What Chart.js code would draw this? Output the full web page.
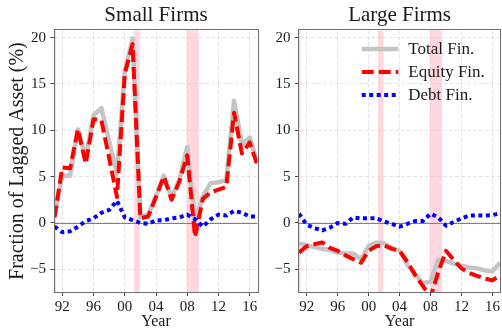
<!DOCTYPE html>
<html>
<head>
<meta charset="utf-8">
<script src="https://cdn.jsdelivr.net/npm/chart.js@4.4.1/dist/chart.umd.min.js"></script>
<style>
  html, body { margin: 0; padding: 0; background: #fff; overflow: hidden; }
  #wrap { position: relative; width: 502px; height: 330px; }
  canvas { position: absolute; top: 0; }
  #c1 { left: 0; }
  #c2 { left: 262px; }
</style>
</head>
<body>
<div id="wrap">
  <canvas id="c1" width="262" height="330"></canvas>
  <canvas id="c2" width="240" height="330"></canvas>
</div>
<script>
// Annual financing flows, % of lagged assets
const years = [1991, 1992, 1993, 1994, 1995, 1996, 1997, 1998, 1999, 2000,
               2001, 2002, 2003, 2004, 2005, 2006, 2007, 2008, 2009, 2010,
               2011, 2012, 2013, 2014, 2015, 2016, 2017];

const smallTotal  = [0.8, 5.1, 5.1, 10.1, 7.0, 11.6, 12.4, 8.8, 5.3, 16.4,
                     19.9, 0.6, 0.9, 2.9, 5.1, 2.7, 4.7, 8.2, 0.2, 2.9,
                     4.3, 4.4, 4.6, 13.2, 8.5, 9.2, 6.5];
const smallEquity = [0.6, 6.0, 5.9, 10.1, 6.4, 11.2, 11.1, 7.0, 2.8, 16.1,
                     19.3, 0.5, 0.7, 2.8, 5.0, 2.5, 4.5, 7.3, -1.5, 2.6,
                     3.3, 3.6, 3.9, 11.9, 7.5, 8.7, 6.2];
const smallDebt   = [-0.4, -1.0, -0.9, -0.4, 0.2, 0.5, 1.1, 1.4, 2.4, 0.6,
                     0.3, 0.0, -0.1, 0.3, 0.3, 0.5, 0.6, 0.9, 0.4, -0.4,
                     0.4, 0.9, 0.8, 1.3, 1.1, 0.7, 0.7];

const largeTotal  = [-2.2, -2.4, -2.6, -2.8, -2.9, -3.2, -3.3, -3.3, -3.9, -2.5,
                     -2.1, -2.2, -2.7, -3.0, -4.5, -5.5, -6.5, -6.3, -4.0, -4.1,
                     -4.4, -4.6, -4.8, -4.9, -5.1, -5.2, -4.3];
const largeEquity = [-3.2, -2.5, -2.3, -2.1, -2.7, -3.0, -3.5, -3.9, -4.3, -3.0,
                     -2.5, -2.4, -2.8, -3.0, -4.2, -5.6, -6.8, -8.0, -5.3, -3.0,
                     -4.0, -4.9, -5.4, -5.7, -6.0, -6.2, -5.6];
const largeDebt   = [1.0, -0.2, -0.55, -0.8, -0.5, 0.0, -0.1, 0.6, 0.5, 0.5,
                     0.5, 0.15, -0.1, -0.4, -0.1, 0.2, 0.2, 1.0, 0.6, -0.3,
                     0.1, 0.5, 0.8, 0.8, 0.8, 0.85, 1.05];

// NBER recession spans (fractional years)
const recessions = [[1990.5, 1991.2], [2001.2, 2001.9], [2007.9, 2009.5]];

const xTicks = [1992, 1996, 2000, 2004, 2008, 2012, 2016];
const yTicks = [-5, 0, 5, 10, 15, 20];

const FAMILY = "'Liberation Serif', 'Times New Roman', serif";
const INK = '#1a1a1a';

const panelDecor = {
  id: 'panelDecor',
  beforeDatasetsDraw(chart) {
    const { ctx, chartArea: a, scales: { x, y } } = chart;
    ctx.save();
    ctx.beginPath();
    ctx.rect(a.left, a.top, a.right - a.left, a.bottom - a.top);
    ctx.clip();
    ctx.fillStyle = 'rgba(255,192,203,0.62)';
    recessions.forEach(([s, e]) => {
      const x0 = x.getPixelForValue(s);
      const x1 = x.getPixelForValue(e);
      ctx.fillRect(x0, a.top, x1 - x0, a.bottom - a.top);
    });
    const y0 = Math.round(y.getPixelForValue(0)) + 0.5;
    ctx.strokeStyle = '#808080';
    ctx.lineWidth = 1;
    ctx.beginPath();
    ctx.moveTo(a.left, y0);
    ctx.lineTo(a.right, y0);
    ctx.stroke();
    ctx.restore();
  },
  afterDraw(chart) {
    const { ctx, chartArea: a } = chart;
    ctx.save();
    ctx.strokeStyle = '#6e6e6e';
    ctx.lineWidth = 1;
    ctx.strokeRect(Math.round(a.left) - 0.5, Math.round(a.top) - 0.5,
                   Math.round(a.right) - Math.round(a.left) + 1,
                   Math.round(a.bottom) - Math.round(a.top) + 1);
    ctx.restore();
  }
};

const insideLegend = {
  id: 'insideLegend',
  afterDatasetsDraw(chart, args, opts) {
    if (!opts.show) return;
    const { ctx, chartArea: a } = chart;
    ctx.save();
    chart.data.datasets.forEach((ds, i) => {
      const yy = a.top + opts.top + i * opts.rowGap;
      const x0 = a.left + opts.left;
      ctx.strokeStyle = ds.borderColor;
      ctx.lineWidth = ds.borderWidth;
      ctx.setLineDash(ds.borderDash || []);
      ctx.lineCap = 'butt';
      ctx.beginPath();
      ctx.moveTo(x0, yy);
      ctx.lineTo(x0 + opts.lineLen, yy);
      ctx.stroke();
      ctx.setLineDash([]);
      ctx.fillStyle = INK;
      ctx.font = opts.fontSize + 'px ' + FAMILY;
      ctx.textBaseline = 'middle';
      ctx.textAlign = 'left';
      ctx.fillText(ds.label, x0 + opts.lineLen + opts.gap, yy + 1);
    });
    ctx.restore();
  }
};

function series(label, values, color, width, dash, order) {
  return {
    label,
    data: years.map((yr, i) => ({ x: yr, y: values[i] })),
    borderColor: color,
    backgroundColor: color,
    borderWidth: width,
    borderDash: dash,
    borderCapStyle: 'butt',
    borderJoinStyle: 'round',
    pointRadius: 0,
    tension: 0,
    fill: false,
    clip: 0,
    order
  };
}

function makePanel(canvasId, title, total, equity, debt, yAxisWidth, showYTitle, showLegend) {
  const tickFont = { family: FAMILY, size: 15 };
  return new Chart(document.getElementById(canvasId), {
    type: 'line',
    data: {
      datasets: [
        series('Total Fin.', total, '#c4c4c4', 4.5, [], 3),
        series('Equity Fin.', equity, '#ff0000', 4, [12, 5], 2),
        series('Debt Fin.', debt, '#0000ff', 4, [4, 3.5], 1)
      ]
    },
    options: {
      responsive: false,
      animation: false,
      devicePixelRatio: 1,
      layout: { padding: { left: 0, right: canvasId === 'c1' ? 4.5 : 0, top: 0, bottom: 0 } },
      plugins: {
        legend: { display: false },
        tooltip: { enabled: false },
        title: {
          display: true,
          text: title,
          fullSize: false,
          color: INK,
          font: { family: FAMILY, size: 21, weight: 'normal', lineHeight: 1.2 },
          padding: { top: 3, bottom: 2 }
        },
        insideLegend: { show: showLegend, left: 62.7, top: 18.8, rowGap: 23, lineLen: 36.6, gap: 10, fontSize: 17 }
      },
      scales: {
        x: {
          type: 'linear',
          min: 1991,
          max: 2017,
          afterBuildTicks: s => { s.ticks = xTicks.map(v => ({ value: v })); },
          afterFit: s => { s.height = 38; },
          ticks: {
            autoSkip: false,
            maxRotation: 0,
            padding: 2,
            color: INK,
            font: tickFont,
            callback: v => String(v).slice(2)
          },
          grid: { color: '#e4e4e4', lineWidth: 1, tickColor: '#444', tickLength: 4, tickWidth: 1 },
          border: { display: false, dash: [4, 2] },
          title: {
            display: true,
            text: 'Year',
            color: INK,
            font: { family: FAMILY, size: 16, lineHeight: 1 },
            padding: { top: 0, bottom: 0 }
          }
        },
        y: {
          type: 'linear',
          min: -7.45,
          max: 20.8,
          afterBuildTicks: s => { s.ticks = yTicks.map(v => ({ value: v })); },
          afterFit: s => { s.width = yAxisWidth; },
          ticks: {
            padding: 4.5,
            color: INK,
            font: tickFont,
            callback: v => (v < 0 ? '\u2212' + Math.abs(v) : String(v))
          },
          grid: { color: '#e4e4e4', lineWidth: 1, tickColor: '#444', tickLength: 4, tickWidth: 1 },
          border: { display: false, dash: [4, 2] },
          title: {
            display: showYTitle,
            text: 'Fraction of Lagged Asset (%)',
            color: INK,
            font: { family: FAMILY, size: 20, lineHeight: 1 },
            padding: { top: 8, bottom: 0 }
          }
        }
      }
    },
    plugins: [panelDecor, insideLegend]
  });
}

makePanel('c1', 'Small Firms', smallTotal, smallEquity, smallDebt, 54.5, true, false);
makePanel('c2', 'Large Firms', largeTotal, largeEquity, largeDebt, 37, false, true);
</script>
</body>
</html>
